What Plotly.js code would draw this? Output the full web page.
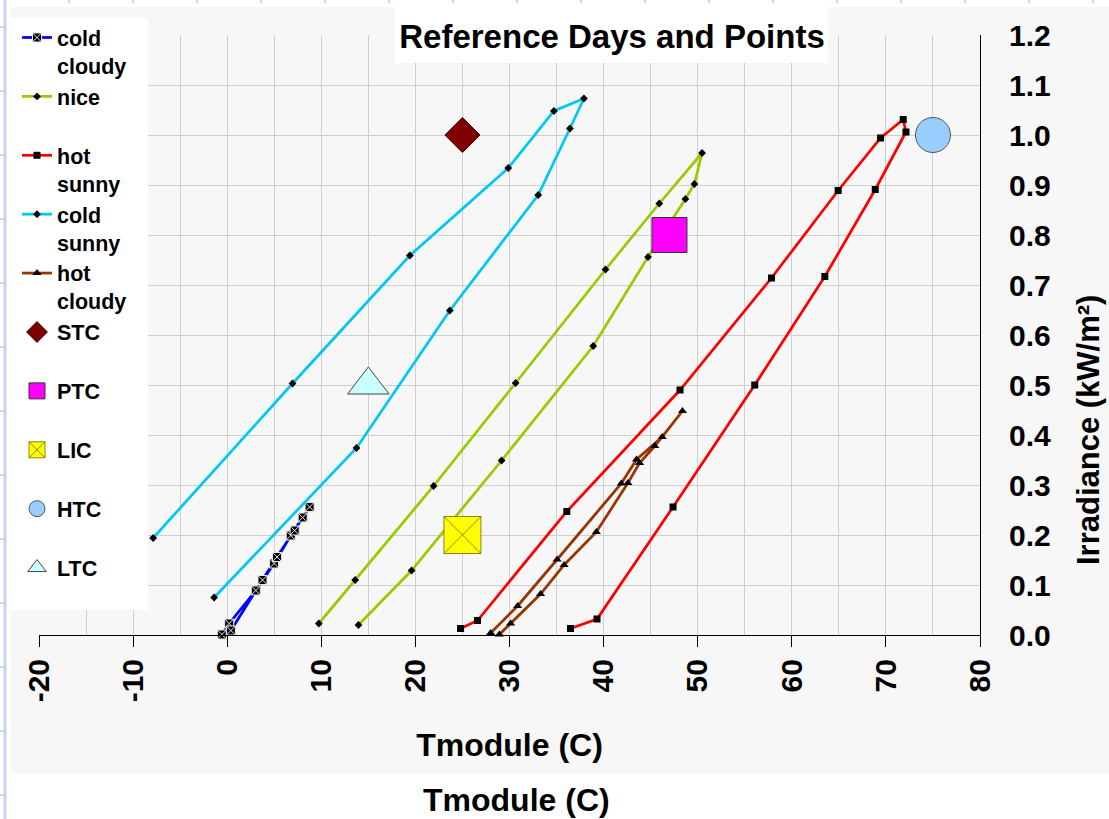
<!DOCTYPE html>
<html>
<head>
<meta charset="utf-8">
<script src="https://cdn.plot.ly/plotly-3.0.1.min.js"></script>
<style>html,body{margin:0;padding:0;background:#fff;}#chart{width:1109px;height:819px;}</style>
</head>
<body>
<div id="chart"></div>
<script>
// ---- data ----
const coldCloudyX = [-0.57, 0.21, 3.04, 4.98, 6.75, 8.02, 8.76, 7.17, 5.30, 3.75, 0.39];
const coldCloudyY = [0.001, 0.023, 0.089, 0.143, 0.199, 0.235, 0.256, 0.209, 0.156, 0.110, 0.009];

const niceX = [9.74, 13.6, 21.93, 30.65, 40.2, 45.92, 50.46, 49.65, 48.69, 44.72, 38.9, 29.16, 19.59, 13.95];
const niceY = [0.023, 0.110, 0.298, 0.504, 0.731, 0.863, 0.964, 0.902, 0.872, 0.756, 0.578, 0.349, 0.129, 0.020];

const hotSunnyX = [24.8, 26.6, 36.09, 48.12, 57.84, 64.93, 69.43, 71.84, 72.13, 68.87, 63.51, 56.06, 47.38, 39.3, 36.48];
const hotSunnyY = [0.013, 0.029, 0.247, 0.490, 0.714, 0.889, 0.994, 1.031, 1.006, 0.891, 0.717, 0.500, 0.256, 0.032, 0.013];

const coldSunnyX = [-7.87, 6.94, 19.41, 29.87, 34.72, 37.91, 36.42, 33.05, 23.66, 13.74, -1.39];
const coldSunnyY = [0.194, 0.503, 0.759, 0.934, 1.048, 1.073, 1.013, 0.880, 0.649, 0.374, 0.075];

const hotCloudyX = [28.0, 30.86, 35.06, 41.88, 43.5, 46.22, 48.38, 45.44, 43.82, 42.58, 39.23, 35.8, 33.3, 30.12, 28.92];
const hotCloudyY = [0.004, 0.058, 0.151, 0.303, 0.351, 0.396, 0.448, 0.378, 0.344, 0.304, 0.206, 0.140, 0.082, 0.023, 0.001];

const refNames = ['STC', 'PTC', 'LIC', 'HTC', 'LTC'];
const refX = [25, 47, 25, 75, 15];
const refY = [1.0, 0.8, 0.2, 1.0, 0.5];

const xTickVals = [-20, -10, 0, 10, 20, 30, 40, 50, 60, 70, 80];
const yTickVals = [0, 0.1, 0.2, 0.3, 0.4, 0.5, 0.6, 0.7, 0.8, 0.9, 1.0, 1.1, 1.2];

const chartTitle = 'Reference Days and Points';
const xTitle = 'Tmodule (C)';
const yTitle = 'Irradiance (kW/m²)';

// ---- styles ----
const FONT = 'Arial, "Liberation Sans", sans-serif';
const refStyles = [
  {symbol: 'diamond', size: 27, color: '#800000', line: {color: '#3a0000', width: 1}},
  {symbol: 'square', size: 35, color: '#ff00ff', line: {color: '#333333', width: 1}},
  {symbol: 'square-x', size: 37, color: '#ffff00', line: {color: '#6b6b00', width: 0.8}},
  {symbol: 'circle', size: 35, color: '#99ccff', line: {color: '#555555', width: 1}},
  {symbol: 'triangle-up', size: 36, color: '#ccffff', line: {color: '#444444', width: 1}}
];

function lineTrace(name, x, y, color, sym, msize, mline) {
  return {
    type: 'scatter', mode: 'lines+markers', name: name, x: x, y: y,
    line: {color: color, width: 2.75},
    marker: {symbol: sym, size: msize, color: 'black', line: mline || {width: 0}},
    cliponaxis: false
  };
}

const traces = [
  lineTrace('cold<br>cloudy', coldCloudyX, coldCloudyY, '#0000ff', 'square-x', 9, {color: '#e8e8e8', width: 1}),
  lineTrace('nice<br> ', niceX, niceY, '#99cc00', 'diamond', 6),
  lineTrace('hot<br>sunny', hotSunnyX, hotSunnyY, '#ff0000', 'square', 7),
  lineTrace('cold<br>sunny', coldSunnyX, coldSunnyY, '#00c8f5', 'diamond', 6),
  lineTrace('hot<br>cloudy', hotCloudyX, hotCloudyY, '#993300', 'triangle-up', 8)
];
refNames.forEach(function (n, i) {
  traces.push({
    type: 'scatter', mode: 'markers', name: n + '<br> ',
    x: [refX[i]], y: [refY[i]],
    marker: refStyles[i], cliponaxis: false
  });
});

// ---- layout helpers (pixel -> paper) ----
const L = 39, R = 129, T = 35, B = 184, W = 1109, H = 819;
const PW = W - L - R, PH = H - T - B;
function px(x) { return (x - L) / PW; }
function py(y) { return (H - B - y) / PH; }
function rect(x0, y0, x1, y1, fill, layer) {
  return {type: 'rect', xref: 'paper', yref: 'paper', x0: px(x0), x1: px(x1), y0: py(y1), y1: py(y0),
          fillcolor: fill, line: {width: 0}, layer: layer};
}
function seg(x0, y0, x1, y1, color, w) {
  return {type: 'line', xref: 'paper', yref: 'paper', x0: px(x0), x1: px(x1), y0: py(y0), y1: py(y1),
          line: {color: color, width: w}, layer: 'below'};
}

const shapes = [
  rect(11, 7, 1109, 773, '#f7f7f7', 'below'),
  rect(11, 18, 148, 610, '#ffffff', 'above'),
  rect(395, 7, 828, 63, '#ffffff', 'above'),
  seg(5, 0, 5, 819, '#c8d4f6', 3)
];
for (let k = 0; k < 13; k++) { const yy = 27 + 64 * k; shapes.push(seg(0, yy, 5, yy, '#c8d4f6', 2)); }
for (let k = 0; k < 17; k++) { const xx = 69 + 64 * k; shapes.push(seg(xx, 0, xx, 3, '#c8d4f6', 2)); }

const layout = {
  width: W, height: H,
  margin: {l: L, r: R, t: T, b: B, pad: 0, autoexpand: false},
  paper_bgcolor: '#ffffff',
  plot_bgcolor: '#f7f7f7',
  showlegend: true,
  title: {
    text: chartTitle, x: 612 / W, xref: 'container', xanchor: 'center',
    y: 1 - 36 / H, yref: 'container', yanchor: 'middle',
    font: {family: FONT, size: 33, color: '#000', weight: 'bold'}
  },
  xaxis: {
    range: [-20, 80], tickvals: xTickVals, ticktext: xTickVals.map(String),
    tickangle: -90, ticks: 'outside', ticklen: 11, tickcolor: '#000', tickwidth: 1,
    tickfont: {family: FONT, size: 30, color: '#000', weight: 'bold'},
    showgrid: true, gridcolor: '#cfcfcf', gridwidth: 1,
    minor: {dtick: 5, tick0: 0, showgrid: true, gridcolor: '#cfcfcf', gridwidth: 1, ticks: ''},
    showline: true, linecolor: '#000', linewidth: 1, zeroline: false,
    title: {text: xTitle, standoff: 32, font: {family: FONT, size: 32, color: '#000', weight: 'bold'}},
    automargin: false
  },
  yaxis: {
    range: [0, 1.2], tickvals: yTickVals, tickformat: '.1f', side: 'right',
    ticks: '', ticklabelstandoff: 22,
    tickfont: {family: FONT, size: 30, color: '#000', weight: 'bold'},
    showgrid: true, gridcolor: '#cfcfcf', gridwidth: 1,
    showline: true, linecolor: '#000', linewidth: 1, zeroline: false,
    automargin: false
  },
  legend: {
    x: 17 / W, xref: 'container', xanchor: 'left',
    y: 1 - 17 / H, yref: 'container', yanchor: 'top',
    bgcolor: 'rgba(0,0,0,0)', borderwidth: 0, valign: 'top', tracegroupgap: 0,
    maxheight: 800,
    font: {family: FONT, size: 21.5, color: '#000', weight: 'bold'}
  },
  annotations: [
    {
      text: xTitle, xref: 'paper', yref: 'paper', x: px(516), y: py(800),
      xanchor: 'center', yanchor: 'middle', showarrow: false,
      font: {family: FONT, size: 32, color: '#000', weight: 'bold'}
    },
    {
      text: yTitle, xref: 'paper', yref: 'paper', x: px(1088), y: py(430),
      xanchor: 'center', yanchor: 'middle', textangle: -90, showarrow: false, borderpad: 0,
      font: {family: FONT, size: 31, color: '#000', weight: 'bold'}
    }
  ],
  shapes: shapes
};

Plotly.newPlot('chart', traces, layout, {displayModeBar: false, staticPlot: true});
</script>
</body>
</html>
